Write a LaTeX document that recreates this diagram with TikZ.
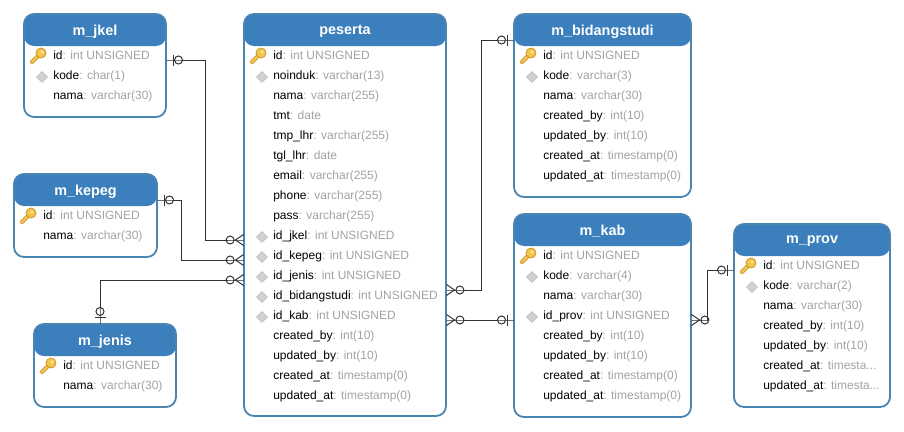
\documentclass[tikz,border=0pt]{standalone}
\usepackage{fontspec}
\setmainfont{Liberation Sans}
\usetikzlibrary{arrows.meta,shapes.geometric}
\definecolor{headblue}{HTML}{3B7FBC}
\definecolor{edgeblue}{HTML}{4A84B0}
\definecolor{typegrey}{HTML}{A3A3A3}
\definecolor{linegrey}{HTML}{333333}
\definecolor{keygold}{HTML}{F4C64A}
\definecolor{keyedge}{HTML}{C9952B}
\tikzset{
  manyend/.tip={Circle[open,length=9pt,width=9pt,sep=0pt] Straight Barb[reversed,length=8pt,width=11pt,sep=-17pt] Rectangle[length=17pt,width=1pt]},
  oneend/.tip={Circle[open,length=9pt,width=9pt,sep=.5pt] Bar[width=11pt,sep=-10.5pt] Rectangle[length=17pt,width=1pt]},
  pkey/.pic={
    \draw[line width=4pt,draw=keyedge,line cap=round] (-7,7) -- (1,-1);
    \draw[line width=2.2pt,draw=keygold,line cap=round] (-7,7) -- (1,-1);
    \draw[draw=keyedge,fill=keygold,line width=.8pt] (2,-2) circle (5);
    \fill[white!70!keygold] (3,-3) circle (1.3);
  }
}
% one table: name, title, corner, width, height, rows
\newcommand{\ertable}[6]{
  \node[tablebox,minimum width=#4,minimum height=#5] (#1) at (#3) {};
  \node[tabletitle] (#1-title) at ([yshift=-17.5pt]#1.north) {#2};
  \foreach \nm/\ty [count=\i] in {#6}
    \node[tablerow] (#1-\i) at ([xshift=29pt,yshift={-22pt-20pt*\i}]#1.north west) {\nm{\color{typegrey}: \ty}};
  \pic at ([xshift=15pt,yshift=-41pt]#1.north west) {pkey};
}
\begin{document}
\begin{tikzpicture}[x=1pt,y=-1pt,semithick]
\tikzstyle{tablebox}=[draw=edgeblue,line width=1.8pt,rounded corners=10pt,fill=white,anchor=north west,inner sep=0pt,outer sep=0pt,
  path picture={\fill[headblue] (path picture bounding box.north west) rectangle ([yshift=-32pt]path picture bounding box.north east);}]
\tikzstyle{tabletitle}=[text=white,font=\fontsize{14.4}{16}\selectfont\bfseries,inner sep=0pt]
\tikzstyle{tablerow}=[anchor=west,text=black,font=\fontsize{12}{14}\selectfont,inner sep=0pt,text height=9pt,text depth=2.6pt]
\tikzstyle{fkmark}=[diamond,draw=black!25,fill=black!18,line width=.6pt,minimum width=11pt,minimum height=11pt,inner sep=0pt]
\tikzstyle{reln}=[draw=linegrey,line width=1pt,oneend-manyend]
\useasboundingbox (0,0) rectangle (904,431);

\ertable{jkel}{m\_jkel}{24,14}{142pt}{103pt}{id/int UNSIGNED,kode/char(1),nama/varchar(30)}
\ertable{kepeg}{m\_kepeg}{14,174}{143pt}{83pt}{id/int UNSIGNED,nama/varchar(30)}
\ertable{jenis}{m\_jenis}{34,324}{142pt}{83pt}{id/int UNSIGNED,nama/varchar(30)}
\ertable{peserta}{peserta}{244,14}{202pt}{402pt}{id/int UNSIGNED,noinduk/varchar(13),nama/varchar(255),tmt/date,tmp\_lhr/varchar(255),tgl\_lhr/date,email/varchar(255),phone/varchar(255),pass/varchar(255),id\_jkel/int UNSIGNED,id\_kepeg/int UNSIGNED,id\_jenis/int UNSIGNED,id\_bidangstudi/int UNSIGNED,id\_kab/int UNSIGNED,created\_by/int(10),updated\_by/int(10),created\_at/timestamp(0),updated\_at/timestamp(0)}
\ertable{bidang}{m\_bidangstudi}{514,14}{177pt}{183pt}{id/int UNSIGNED,kode/varchar(3),nama/varchar(30),created\_by/int(10),updated\_by/int(10),created\_at/timestamp(0),updated\_at/timestamp(0)}
\ertable{kab}{m\_kab}{514,214}{177pt}{203pt}{id/int UNSIGNED,kode/varchar(4),nama/varchar(30),id\_prov/int UNSIGNED,created\_by/int(10),updated\_by/int(10),created\_at/timestamp(0),updated\_at/timestamp(0)}
\ertable{prov}{m\_prov}{734,224}{156pt}{183pt}{id/int UNSIGNED,kode/varchar(2),nama/varchar(30),created\_by/int(10),updated\_by/int(10),created\_at/timesta.{}.{}.,updated\_at/timesta.{}.{}.}

% non-key index marks
\foreach \tbl/\r in {jkel/2,peserta/2,peserta/10,peserta/11,peserta/12,peserta/13,peserta/14,bidang/2,kab/2,kab/4,prov/2}
  \node[fkmark] (\tbl-mark-\r) at ([xshift=-11pt,yshift=-1pt]\tbl-\r.west) {};

% relations
\coordinate (jkelbend) at (205,60);
\coordinate (kepegbend) at (181,200);
\coordinate (jenisbend) at (100,280);
\coordinate (bidangbend) at (481,290);
\coordinate (provbend) at (707,320);
\draw[reln] ([yshift=-46pt]jkel.north east) -- (jkelbend) |- ([yshift=-226pt]peserta.north west);
\draw[reln] ([yshift=-26pt]kepeg.north east) -- (kepegbend) |- ([yshift=-246pt]peserta.north west);
\draw[reln] ([xshift=66pt]jenis.north west) -- (jenisbend) -- ([yshift=-266pt]peserta.north west);
\draw[reln,manyend-oneend] ([yshift=-276pt]peserta.north east) -- (bidangbend) |- ([yshift=-26pt]bidang.north west);
\draw[reln,manyend-oneend] ([yshift=-306pt]peserta.north east) -- ([yshift=-106pt]kab.north west);
\draw[reln,manyend-oneend] ([yshift=-106pt]kab.north east) -- (provbend) |- ([yshift=-46pt]prov.north west);
\end{tikzpicture}
\end{document}
